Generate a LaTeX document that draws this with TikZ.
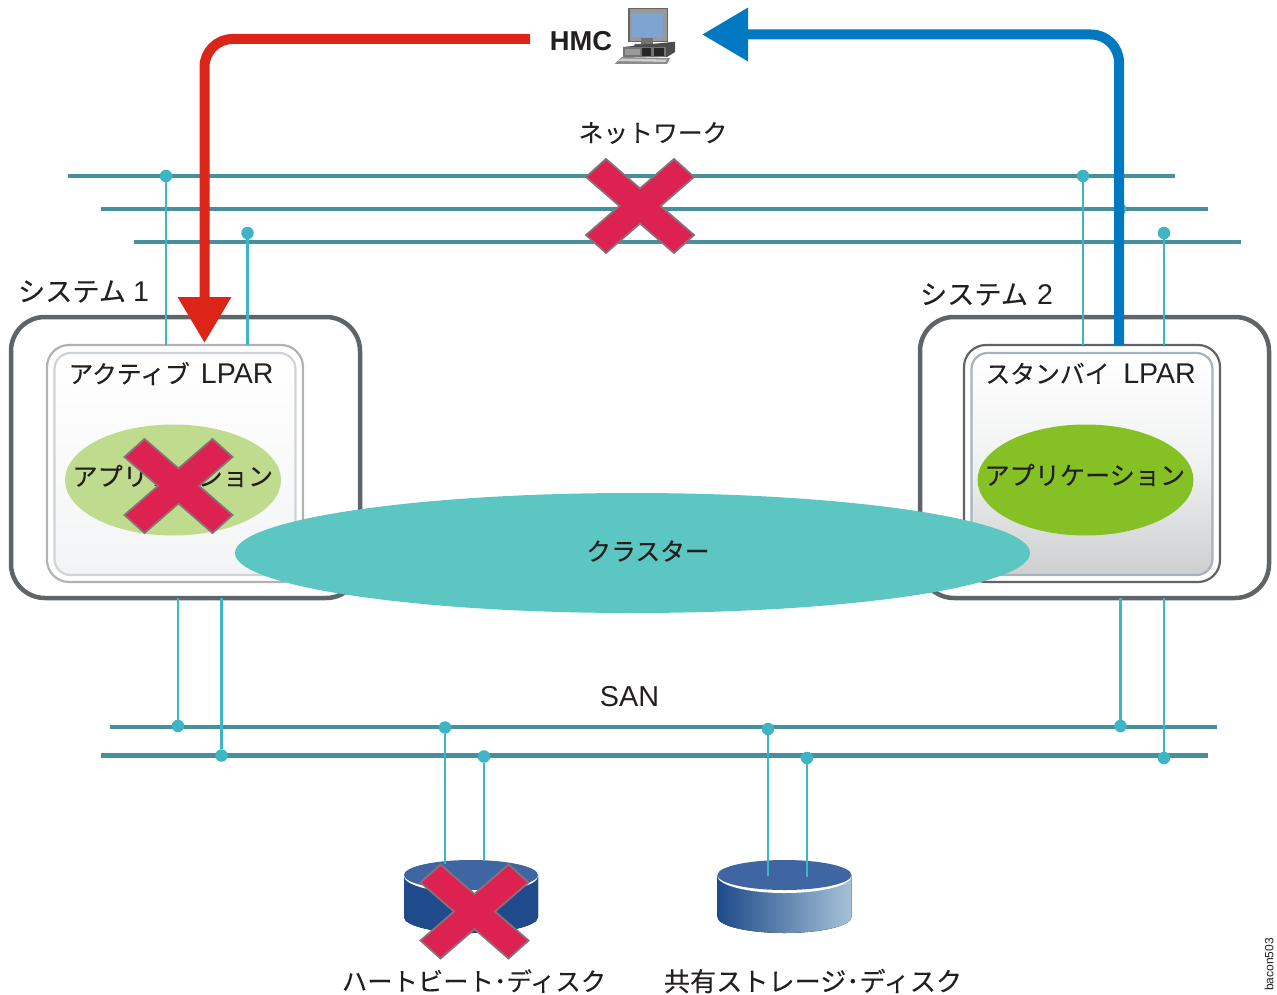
\documentclass[tikz,border=0pt]{standalone}
\usepackage{fontspec}
\setmainfont{Liberation Sans}
\newfontfamily\jp[FakeBold=0.12]{Noto Sans CJK JP}
\newfontfamily\jpb[FakeBold=0.3]{Noto Sans CJK JP}
\usetikzlibrary{arrows.meta,shapes.geometric}
\def\px{0.75pt}
\definecolor{busc}{HTML}{45909C}
\definecolor{dropc}{HTML}{3DB5C5}
\definecolor{redc}{HTML}{DC2518}
\definecolor{bluec}{HTML}{0079C1}
\definecolor{xfill}{HTML}{DD2150}
\definecolor{xline}{HTML}{8A7078}
\definecolor{sysc}{HTML}{5F6468}
\definecolor{txt}{HTML}{231F20}
\definecolor{diskt}{HTML}{3F66A2}
\definecolor{diskd}{HTML}{1F4A8C}
\definecolor{diskm}{HTML}{6086AF}
\definecolor{diskl}{HTML}{A6C2D8}
\definecolor{appdim}{HTML}{BFDC8E}
\definecolor{appfull}{HTML}{85C025}
\definecolor{clusc}{HTML}{5CC6C2}
\definecolor{scrn}{HTML}{7EA4D1}
\definecolor{lparin}{HTML}{A8B1BC}
\definecolor{lparin1}{HTML}{CFD3D8}
\definecolor{lparbot}{HTML}{CDCFD0}
\definecolor{lparmid}{HTML}{F0F1F1}
\definecolor{lparbot1}{HTML}{F3F4F5}
\tikzset{
  bus/.style={draw=busc,line width=4.2*\px},
  drop/.style={draw=dropc,line width=2.6*\px},
  dot/.style={circle,fill=dropc,minimum size=12.5*\px,inner sep=0,outer sep=0},
  sysbox/.style={rectangle,draw=sysc,fill=white,line width=4.5*\px,rounded corners=34*\px,minimum width=349*\px,minimum height=281*\px,inner sep=0,outer sep=0},
  lparbox/.style={rectangle,fill=white,line width=2.2*\px,rounded corners=22*\px,minimum width=256*\px,minimum height=237*\px,inner sep=0,outer sep=0},
  innerbox/.style={rectangle,line width=2.2*\px,rounded corners=16*\px,minimum width=241*\px,minimum height=222*\px,inner sep=0,outer sep=0},
  appell/.style={ellipse,minimum width=216*\px,minimum height=111*\px,inner sep=0,outer sep=0},
  lab/.style={inner sep=0,outer sep=0,text=txt,font=\fontsize{18.6}{20}\selectfont},
  pics/xmark/.style={code={
    \draw[fill=xfill,draw=xline,line width=1.8*\px,line join=miter]
      (-34,-47)--(0,-17.5)--(34,-47)--(54,-29)--(20.5,0)--(54,29)--(34,47)--(0,17.5)--(-34,47)--(-54,29)--(-20.5,0)--(-54,-29)--cycle;
  }},
  pics/disk/.style={code={
    \fill[#1] (-67,0) -- (-67,42) arc[x radius=67,y radius=16,start angle=180,end angle=0] -- (67,0) -- cycle;
    \fill[white] (-67,1) arc[x radius=67,y radius=17,start angle=180,end angle=0] -- (67,0) -- (-67,0) -- cycle;
    \fill[diskt] (0,0) ellipse[x radius=67,y radius=15];
  }}
}
\begin{document}
\begin{tikzpicture}[x=\px,y=-\px]
\useasboundingbox (0,0) rectangle (1277,995);
% network
\coordinate (n1a) at (68,176); \coordinate (n1b) at (1175,176);
\coordinate (n2a) at (101,209); \coordinate (n2b) at (1208,209);
\coordinate (n3a) at (134,242); \coordinate (n3b) at (1241,242);
\draw[bus] (n1a) -- (n1b);
\draw[bus] (n2a) -- (n2b);
\draw[bus] (n3a) -- (n3b);
% SAN
\coordinate (s1a) at (110,727); \coordinate (s1b) at (1217,727);
\coordinate (s2a) at (101,755.5); \coordinate (s2b) at (1208,755.5);
\draw[bus] (s1a) -- (s1b);
\draw[bus] (s2a) -- (s2b);
% systems
\node[sysbox] (sys1) at (185.5,457.5) {};
\node[sysbox] (sys2) at (1094.5,457.5) {};
\node[lparbox,draw=black!30] (lpar1) at (175,463.5) {};
\node[innerbox,draw=lparin1,top color=white,bottom color=lparbot1] (in1) at (175,464) {};
\node[lparbox,draw=sysc] (lpar2) at (1092,463.5) {};
\node[innerbox,draw=lparin,top color=white,bottom color=lparbot,middle color=lparmid] (in2) at (1092,464) {};
% dots and drops
\node[dot] (d1) at (166,176) {};
\node[dot] (d2) at (247.5,233) {};
\node[dot] (d3) at (1083,176) {};
\node[dot] (d4) at (1120,209) {};
\node[dot] (d5) at (1164,233) {};
\draw[drop] (d1) -- (d1 |- lpar1.north);
\draw[drop] (d2) -- (d2 |- lpar1.north);
\draw[drop] (d3) -- (d3 |- lpar2.north);
\draw[drop] (d5) -- (d5 |- lpar2.north);
\node[dot] (e1) at (178,726) {};
\node[dot] (e2) at (221.5,755.5) {};
\node[dot] (e3) at (1120.5,726) {};
\node[dot] (e4) at (1164,758) {};
\draw[drop] (e1) -- (e1 |- sys1.south);
\draw[drop] (e2) -- (e2 |- sys1.south);
\draw[drop] (e3) -- (e3 |- sys2.south);
\draw[drop] (e4) -- (e4 |- sys2.south);
% apps
\node[appell,fill=appdim] (app1) at (173,480) {};
\node[lab,anchor=west,font=\fontsize{18.85}{20}\selectfont] (app1t) at (72.5,476) {\jp アプリケーション};
\node[appell,fill=appfull] (app2) at (1085.5,480) {};
\node[lab,anchor=west,font=\fontsize{18.85}{20}\selectfont] (app2t) at (984.5,475) {\jp アプリケーション};
% LPAR labels
\node[lab,anchor=west] (l1) at (68.5,373.5) {{\jp アクティブ}\hspace{8.4pt}{\fontsize{21.4}{24}\selectfont LPAR}};
\node[lab,anchor=west] (l2) at (985.5,373.5) {{\jp スタンバイ}\hspace{10.4pt}{\fontsize{21.4}{24}\selectfont LPAR}};
\node[lab,anchor=west,font=\fontsize{20.4}{22}\selectfont] (sl1) at (18,291.5) {{\jp システム}\hspace{0.26em}{\fontsize{21.4}{24}\selectfont 1}};
\node[lab,anchor=west,font=\fontsize{20.4}{22}\selectfont] (sl2) at (920,294.5) {{\jp システム}\hspace{0.34em}{\fontsize{21.4}{24}\selectfont 2}};
\node[lab] (net) at (653,133) {\jp ネットワーク};
\node[lab,font=\fontsize{21.6}{24}\selectfont] (san) at (629.5,697) {SAN};
% cluster
\node[ellipse,fill=clusc,minimum width=795*\px,minimum height=120*\px,inner sep=0,outer sep=0] (clu) at (632.5,553) {};
\node[lab] (clut) at (648,551) {\jpb クラスター};
% disks
\pic at (471,875) {disk={left color=diskd,right color=diskd}};
\pic at (784.5,875) {disk={left color=diskd,right color=diskl,middle color=diskm}};
\node[dot] (f1) at (445,727.5) {};
\node[dot] (f2) at (484,756.5) {};
\node[dot] (f3) at (768,729) {};
\node[dot] (f4) at (807,758) {};
\coordinate (g1) at (445,864);
\coordinate (g2) at (484,861);
\coordinate (g3) at (768,876);
\coordinate (g4) at (807,877);
\draw[drop] (f1) -- (g1);
\draw[drop] (f2) -- (g2);
\draw[drop] (f3) -- (g3);
\draw[drop] (f4) -- (g4);
\node[lab,font=\fontsize{19}{20}\selectfont] (dl1) at (474,981) {\jp ハートビート･ディスク};
\node[lab,font=\fontsize{19.6}{20}\selectfont] (dl2) at (813,981) {\jp 共有ストレージ･ディスク};
% X marks
\pic at (640,206) {xmark};
\pic at (178.5,486) {xmark};
\pic at (474.5,911.5) {xmark};
% HMC
\node[lab,font=\fontsize{20.5}{24}\selectfont\bfseries] (hmc) at (581,41.5) {HMC};
% computer icon
\fill[black!60] (628,8) rectangle (668,42);
\fill[black!40] (629.5,9) rectangle (667,41);
\fill[scrn] (632,13) rectangle (663,37);
\fill[black!55] (641,38) rectangle (653,44);
\fill[black!65] (635,44) -- (659,44) -- (661,47) -- (633,47) -- cycle;
\fill[black!70] (623,47) -- (672,42) -- (675,42) -- (675,52) -- (667,57) -- (623,57) -- cycle;
\fill[black!55] (623,47) rectangle (666,57);
\fill[black!85] (642,48) rectangle (651,56);
\fill[black!85] (654,48) rectangle (664,56);
\fill[black!40] (625,49) rectangle (640,55);
\fill[black!45] (614.5,64) -- (622,57) -- (670,58) -- (667,64) -- cycle;
\fill[black!20] (618,61) -- (622,58.5) -- (667,59.5) -- (665,62) -- cycle;
% arrows
\coordinate (rs) at (530,39);
\coordinate (rt) at (204.5,343);
\draw[redc,line width=7.5pt,rounded corners=21pt,-{Triangle[length=34.5pt,width=38.25pt]}] (rs) -- (rs -| rt) -- (rt);
\coordinate (bs) at (1119,345);
\coordinate (bt) at (702,34.5);
\draw[bluec,line width=7.5pt,rounded corners=21pt,-{Triangle[length=34.5pt,width=38.25pt]}] (bs) -- (bs |- bt) -- (bt);
\node[rotate=90,anchor=west,inner sep=0,font=\fontsize{9}{10}\selectfont,text=txt] (fig) at (1269,991) {bacon503};
\end{tikzpicture}
\end{document}
